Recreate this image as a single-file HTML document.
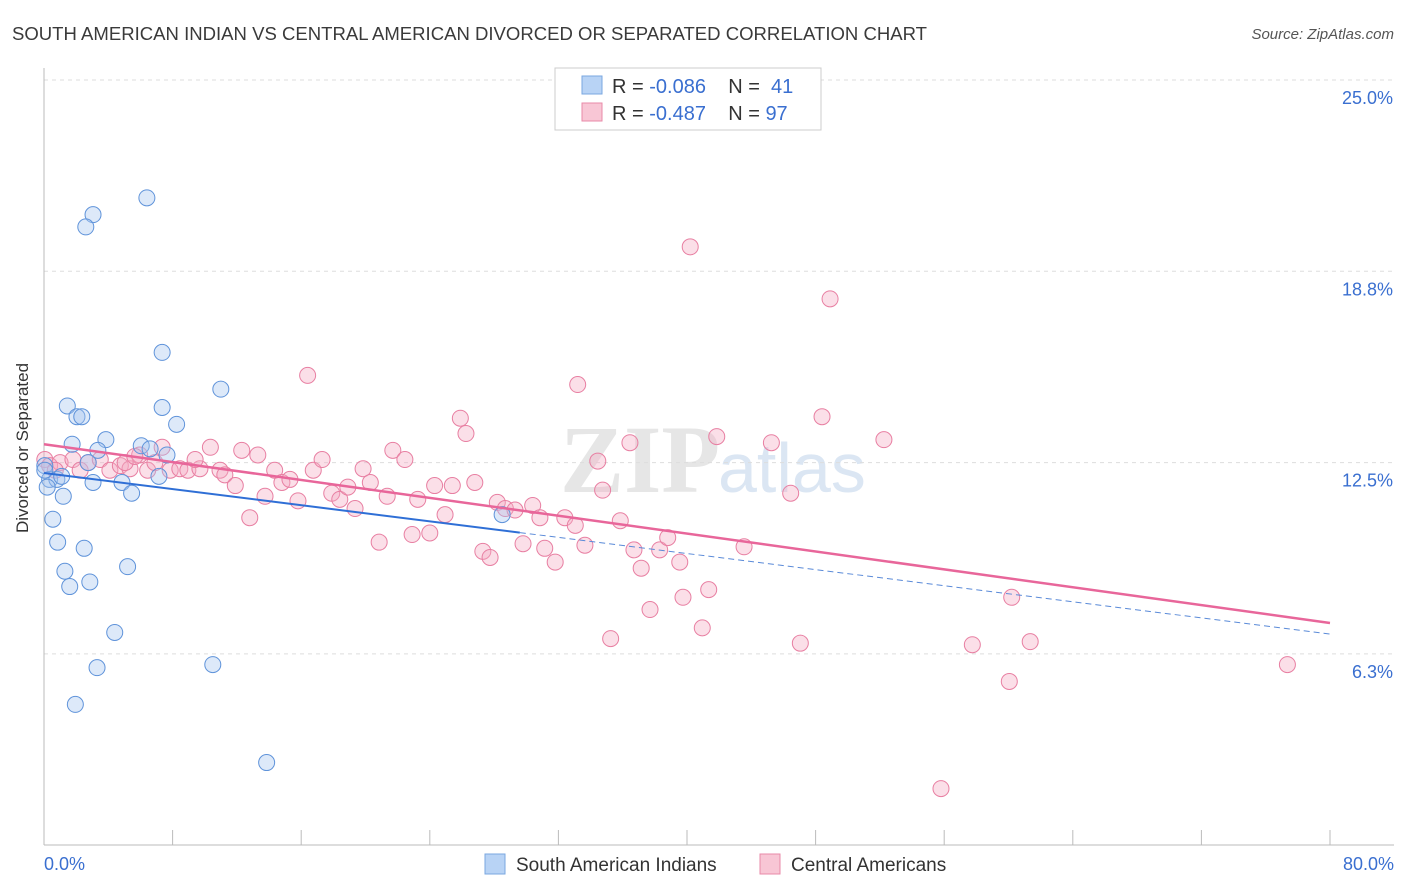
<!DOCTYPE html>
<html><head><meta charset="utf-8">
<style>
body{margin:0;background:#fff;font-family:"Liberation Sans",sans-serif;}
#wrap{position:relative;width:1406px;height:892px;overflow:hidden;}
</style></head>
<body>
<div id="wrap">
<svg id="chart" width="1406" height="892" xmlns="http://www.w3.org/2000/svg">
<text x="12" y="40" font-size="18" fill="#3a3a3a" textLength="915" lengthAdjust="spacingAndGlyphs">SOUTH AMERICAN INDIAN VS CENTRAL AMERICAN DIVORCED OR SEPARATED CORRELATION CHART</text>
<text x="1394" y="39" font-size="15" fill="#555" font-style="italic" text-anchor="end">Source: ZipAtlas.com</text>
<text x="560" y="492" font-size="96" fill="#e6e6e6" font-family="Liberation Serif,serif" font-weight="bold">ZIP</text>
<text x="718" y="492" font-size="70" fill="#dbe6f3">atlas</text>
<g id="grid"></g>
<g id="axes"></g>
<g id="pts"></g>
<g id="trend"></g>
<text x="35" y="455" font-size="17" fill="#333" text-anchor="middle" transform="rotate(-90 28 455)">Divorced or Separated</text>
<g>
<rect x="555" y="68" width="266" height="62" fill="#fff" stroke="#ccc"/>
<rect x="582" y="76" width="20" height="18" fill="#b8d3f5" stroke="#7aa7e0"/>
<rect x="582" y="103" width="20" height="18" fill="#f8c6d5" stroke="#e88aa8"/>
<text x="612" y="93" font-size="20" fill="#333" xml:space="preserve" style="white-space:pre">R = <tspan fill="#3a6fd0">-0.086</tspan>    N =  <tspan fill="#3a6fd0">41</tspan></text>
<text x="612" y="120" font-size="20" fill="#333" xml:space="preserve" style="white-space:pre">R = <tspan fill="#3a6fd0">-0.487</tspan>    N = <tspan fill="#3a6fd0">97</tspan></text>
</g>
<g>
<rect x="485" y="854" width="20" height="20" fill="#b8d3f5" stroke="#7aa7e0"/>
<text x="516" y="871" font-size="19" fill="#333">South American Indians</text>
<rect x="760" y="854" width="20" height="20" fill="#f8c6d5" stroke="#e88aa8"/>
<text x="791" y="871" font-size="19" fill="#333">Central Americans</text>
</g>
</svg>
</div>
<script>
const blueX=[6.4,3.05,2.6,7.35,11.0,1.45,7.35,2.05,2.35,8.25,1.75,3.85,6.05,6.6,7.65,3.35,2.75,0.05,0.35,0.8,1.1,0.2,3.05,4.85,7.15,5.45,1.2,0.55,28.5,0.85,2.5,1.3,5.2,2.85,1.6,4.4,3.3,10.5,1.95,13.85,0.05];
const blueY=[21.15,20.6,20.2,16.1,14.9,14.35,14.3,14.0,14.0,13.75,13.1,13.25,13.05,12.95,12.75,12.9,12.5,12.4,11.95,11.95,12.05,11.7,11.85,11.85,12.05,11.5,11.4,10.65,10.8,9.9,9.7,8.95,9.1,8.6,8.45,6.95,5.8,5.9,4.6,2.7,12.25];
const pinkX=[0.05,0.35,1.0,1.8,2.25,2.75,3.5,4.1,4.75,5.35,5.95,6.45,6.9,7.35,7.85,8.45,8.95,9.7,10.35,10.95,11.25,11.9,12.3,12.8,13.3,13.75,14.35,14.8,15.3,15.8,16.4,16.75,17.3,17.9,18.4,18.9,19.35,19.85,20.3,20.85,21.35,21.7,22.45,22.9,23.25,24.0,24.3,24.95,25.4,25.9,26.25,26.8,27.3,27.75,28.2,28.7,29.3,29.8,30.4,30.85,31.15,31.8,32.4,33.05,33.2,33.65,34.45,34.75,35.25,35.85,36.45,36.7,37.15,37.7,38.3,38.8,39.55,39.75,40.2,40.95,41.35,41.85,43.55,45.25,46.45,47.05,48.4,48.9,52.25,57.75,60.05,60.2,61.35,77.35,55.8,5.05,5.65,9.4,0.7];
const pinkY=[12.6,12.4,12.5,12.6,12.25,12.5,12.6,12.25,12.4,12.3,12.75,12.25,12.5,13.0,12.25,12.3,12.25,12.3,13.0,12.25,12.1,11.75,12.9,10.7,12.75,11.4,12.25,11.85,11.95,11.25,15.35,12.25,12.6,11.5,11.3,11.7,11.0,12.3,11.85,9.9,11.4,12.9,12.6,10.15,11.3,10.2,11.75,10.8,11.75,13.95,13.45,11.85,9.6,9.4,11.2,11.0,10.95,9.85,11.1,10.7,9.7,9.25,10.7,10.45,15.05,9.8,12.55,11.6,6.75,10.6,13.15,9.65,9.05,7.7,9.65,10.05,9.25,8.1,19.55,7.1,8.35,13.35,9.75,13.15,11.5,6.6,14.0,17.85,13.25,6.55,5.35,8.1,6.65,5.9,1.85,12.5,12.7,12.6,12.25];
const yTicks=[25.0,18.8,12.5,6.3];
const yTickLabels=["25.0%","18.8%","12.5%","6.3%"];
const xTickLabels=["0.0%","80.0%"];
const blueTrend=[12.16,6.9];
const pinkTrend=[13.1,7.26];
const blueSolidEnd=29.6;

const NS="http://www.w3.org/2000/svg";
const X0=44,X1=1330,Y25=80,PY=191.3/6.25;
const sx=v=>X0+(v/80)*(X1-X0);
const sy=v=>Y25+(25-v)*PY;
function mk(tag,attrs,parent){const e=document.createElementNS(NS,tag);for(const k in attrs)e.setAttribute(k,attrs[k]);parent.appendChild(e);return e;}
const grid=document.getElementById('grid'),axes=document.getElementById('axes'),pts=document.getElementById('pts'),trend=document.getElementById('trend');
const tickVals=[25,18.75,12.5,6.25];
yTicks.forEach((t,i)=>{
  const y=sy(tickVals[i]);
  const l=mk('line',{x1:X0,x2:1394,y1:y,y2:y,stroke:'#ddd','stroke-dasharray':'4,4'},grid);
  
  
  const tx=mk('text',{x:1393,y:y+24,'font-size':18,fill:'#3a6fd0','text-anchor':'end'},axes);
  tx.textContent=yTickLabels[i];
  
  
});
const ax=mk('line',{x1:X0,x2:X0,y1:68,y2:845,stroke:'#bbb'},axes);


const bx=mk('line',{x1:X0,x2:1394,y1:845,y2:845,stroke:'#bbb'},axes);


for(let i=0;i<=10;i++){
  const x=sx(i*8);
  const t=mk('line',{x1:x,x2:x,y1:830,y2:845,stroke:'#bbb'},axes);
  
  
}
const xl0=mk('text',{x:44,y:870,'font-size':18,fill:'#3a6fd0'},axes);
xl0.textContent=xTickLabels[0];


const xl1=mk('text',{x:1394,y:870,'font-size':18,fill:'#3a6fd0','text-anchor':'end'},axes);
xl1.textContent=xTickLabels[1];


function dots(xs,ys,fill,stroke,name){
  xs.forEach((v,i)=>{
    const c=mk('circle',{cx:sx(v),cy:sy(ys[i]),r:8,fill:fill,'fill-opacity':0.38,stroke:stroke,'stroke-width':1},pts);
    
    
  });
}
dots(pinkX,pinkY,'#f5aac2','#e87fa2','point-central-american');
dots(blueX,blueY,'#a6c6f0','#5f93da','point-south-american');
const by=v=>blueTrend[0]+(blueTrend[1]-blueTrend[0])*v/80;
const b1=mk('line',{x1:sx(0),y1:sy(by(0)),x2:sx(blueSolidEnd),y2:sy(by(blueSolidEnd)),stroke:'#2f6fd6','stroke-width':2},trend);


const b2=mk('line',{x1:sx(blueSolidEnd),y1:sy(by(blueSolidEnd)),x2:sx(80),y2:sy(by(80)),stroke:'#5a8ad8','stroke-width':1,'stroke-dasharray':'6,4'},trend);


const p1=mk('line',{x1:sx(0),y1:sy(pinkTrend[0]),x2:sx(80),y2:sy(pinkTrend[1]),stroke:'#e8669a','stroke-width':2.5},trend);


</script>
</body></html>
